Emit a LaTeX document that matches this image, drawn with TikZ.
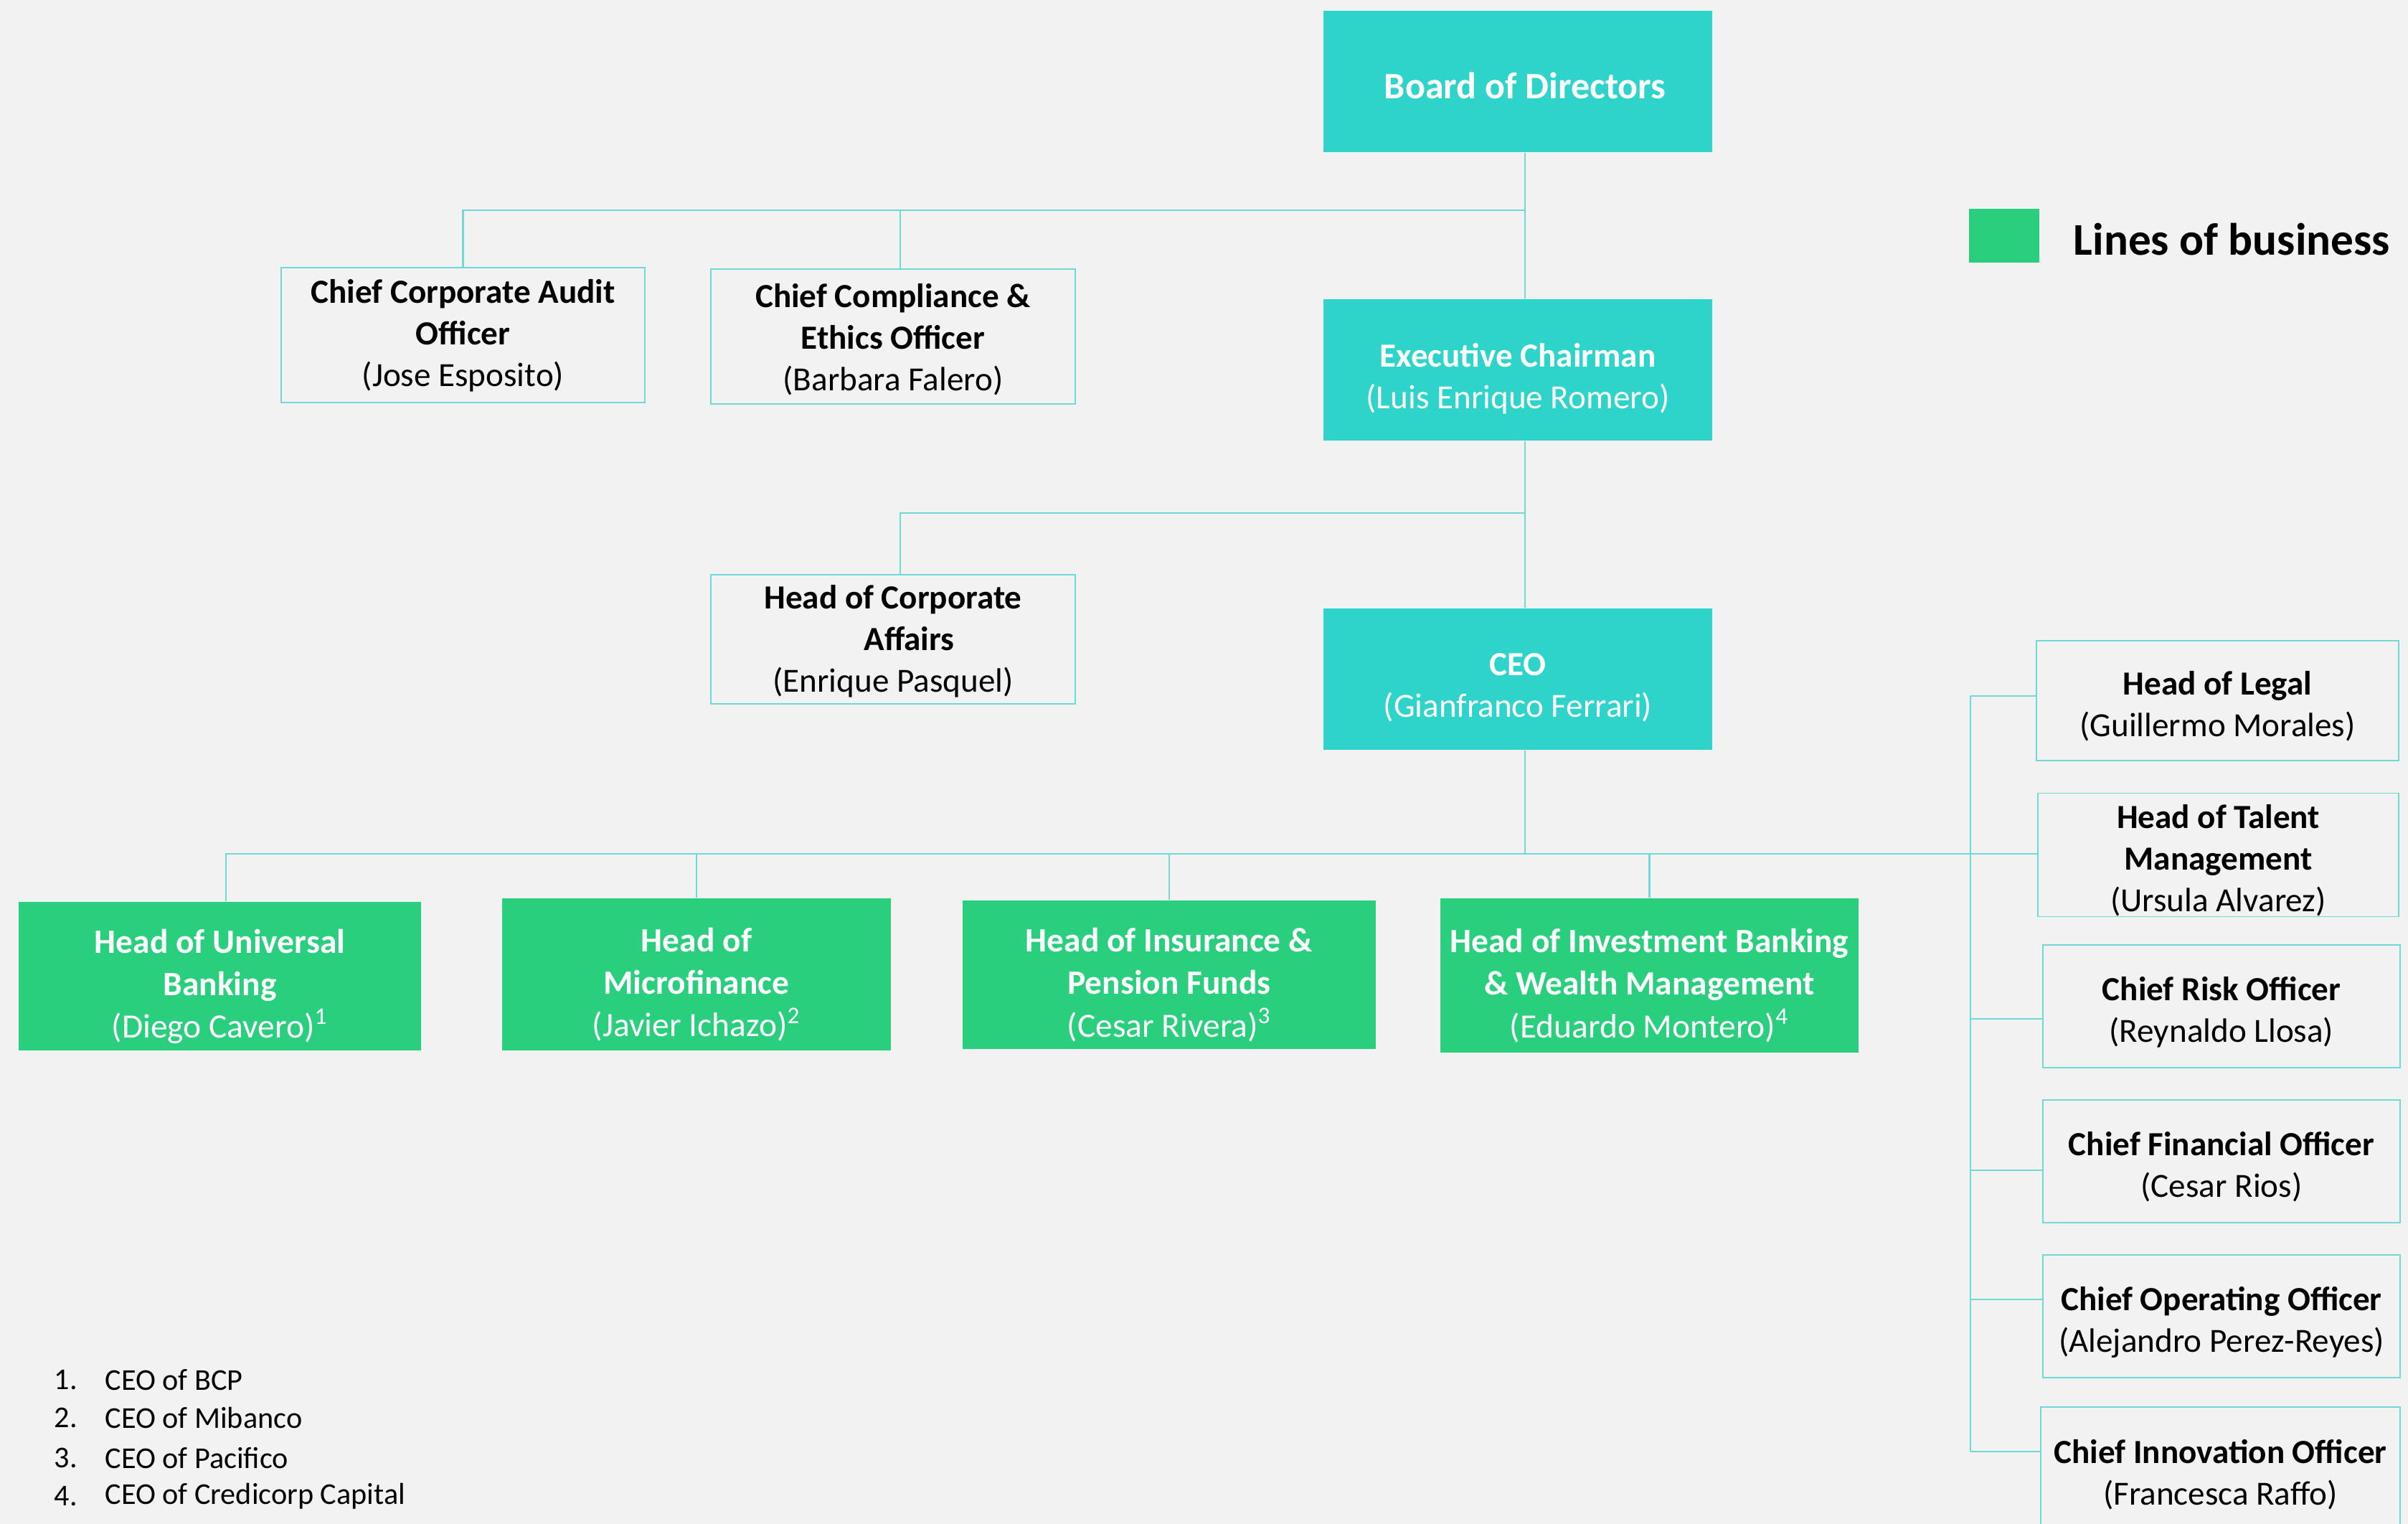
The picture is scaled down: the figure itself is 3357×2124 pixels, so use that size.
\documentclass[tikz,border=0pt]{standalone}
\usepackage{fontspec}
\setmainfont{Carlito}
\definecolor{tealbox}{HTML}{2ED3CA}
\definecolor{lobgreen}{HTML}{2ACF7E}
\definecolor{bgcol}{HTML}{F2F2F2}
\definecolor{linecol}{HTML}{6FD9D3}
\newcommand\upsp[1]{\rule{0pt}{#1}}
\begin{document}
\begin{tikzpicture}[x=0.01cm,y=-0.01cm,
  basebox/.style={rectangle, inner sep=0pt, align=center, font=\fontsize{13.4}{16.5}\selectfont},
  tbox/.style={basebox, fill=tealbox, text=white, minimum width=5.42cm, minimum height=1.97cm},
  gbox/.style={basebox, fill=lobgreen, text=white, font=\fontsize{13.5}{16.8}\selectfont},
  obox/.style={basebox, draw=linecol, line width=0.5pt},
  rbox/.style={obox, minimum width=5cm, minimum height=1.7cm},
  conn/.style={draw=linecol, line width=0.6pt},
  foot/.style={anchor=west, inner sep=0pt, font=\fontsize{12}{14}\selectfont}]
\fill[bgcol] (0,0) rectangle (3357,2124);
\useasboundingbox (0,0) rectangle (3357,2124);

% top chain
\node[tbox, font=\fontsize{14.8}{17}\selectfont\bfseries] (board) at (2116,113.5) {\upsp{13.5pt}\hspace{0.2cm}Board of Directors};
\node[tbox] (exec) at (2116,515.5) {\upsp{16.5pt}\textbf{Executive Chairman}\\(Luis Enrique Romero)};
\node[tbox] (ceo) at (2116,946.5) {\upsp{15.5pt}\textbf{CEO}\\(Gianfranco Ferrari)};

\node[obox, minimum width=5.07cm, minimum height=1.88cm] (audit) at (645.5,467) {\upsp{10pt}\textbf{Chief Corporate Audit}\\\textbf{Officer}\\(Jose Esposito)};
\node[obox, minimum width=5.08cm, minimum height=1.88cm] (comp) at (1245,469) {\upsp{12pt}\textbf{Chief Compliance \&}\\\textbf{Ethics Officer}\\(Barbara Falero)};
\node[obox, minimum width=5.08cm, minimum height=1.8cm] (corp) at (1245,891) {\upsp{11pt}\textbf{Head of Corporate}\\\hspace*{0.45cm}\textbf{Affairs}\\(Enrique Pasquel)};

% lines of business
\node[gbox, minimum width=5.61cm, minimum height=2.07cm] (univ) at (306.5,1360.5) {\upsp{17.5pt}\textbf{Head of Universal}\\\textbf{Banking}\\(Diego Cavero)\textsuperscript{1}};
\node[gbox, minimum width=5.42cm, minimum height=2.12cm] (micro) at (971,1358) {\upsp{17.5pt}\textbf{Head of}\\\textbf{Microfinance}\\(Javier Ichazo)\textsuperscript{2}};
\node[gbox, minimum width=5.76cm, minimum height=2.07cm] (ins) at (1630,1358.5) {\upsp{17.5pt}\textbf{Head of Insurance \&}\\\textbf{Pension Funds}\\(Cesar Rivera)\textsuperscript{3}};
\node[gbox, minimum width=5.83cm, minimum height=2.15cm] (inv) at (2299.5,1359.5) {\upsp{17.5pt}\textbf{Head of Investment Banking}\\\textbf{\& Wealth Management}\\(Eduardo Montero)\textsuperscript{4}};

% right column
\node[rbox, minimum width=5.05cm, minimum height=1.67cm] (legal) at (3091.5,976.5) {\upsp{14pt}\textbf{Head of Legal}\\(Guillermo Morales)};
\node[rbox, minimum width=5.03cm, minimum height=1.69cm] (talent) at (3092.5,1191.5) {\upsp{14pt}\textbf{Head of Talent}\\\textbf{Management}\\(Ursula Alvarez)};
\node[rbox, minimum width=4.98cm, minimum height=1.71cm] (risk) at (3097,1402.5) {\upsp{14pt}\textbf{Chief Risk Officer}\\(Reynaldo Llosa)};
\node[rbox, minimum width=4.98cm, minimum height=1.71cm] (cfo) at (3097,1618.5) {\upsp{14pt}\textbf{Chief Financial Officer}\\(Cesar Rios)};
\node[rbox, minimum width=4.98cm, minimum height=1.71cm] (coo) at (3097,1834.5) {\upsp{14pt}\textbf{Chief Operating Officer}\\(Alejandro Perez-Reyes)};
\node[rbox, minimum width=5.01cm, minimum height=1.79cm] (innov) at (3095.5,2050.5) {\upsp{12pt}\textbf{Chief Innovation Officer}\\(Francesca Raffo)};

% connectors: top
\coordinate (tx) at (2126,0);
\coordinate (bar1) at (2126,293);
\coordinate (bar2) at (2126,715);
\coordinate (row) at (2126,1190);
\coordinate (cx) at (1255,0);
\coordinate (ux) at (315,0);
\draw[conn] (board.south -| tx) -- (exec.north -| tx);
\draw[conn] (exec.south -| tx) -- (ceo.north -| tx);
\draw[conn] (audit.north) -- (audit.north |- bar1) -- (bar1);
\draw[conn] (comp.north -| cx) -- (cx |- bar1);
\draw[conn] (corp.north -| cx) -- (cx |- bar2) -- (bar2);

% connectors: CEO row
\draw[conn] (ceo.south -| tx) -- (row);
\draw[conn] (univ.north -| ux) -- (ux |- row) -- (talent.west |- row);
\draw[conn] (micro.north) -- (micro.north |- row);
\draw[conn] (ins.north) -- (ins.north |- row);
\draw[conn] (inv.north) -- (inv.north |- row);

% right bar
\coordinate (r1) at (2747,970);
\coordinate (r3) at (2747,1420);
\coordinate (r4) at (2747,1631);
\coordinate (r5) at (2747,1811);
\coordinate (r6) at (2747,2023);
\draw[conn] (r1) -- (r6);
\draw[conn] (r1) -- (legal.west |- r1);
\draw[conn] (r3) -- (risk.west |- r3);
\draw[conn] (r4) -- (cfo.west |- r4);
\draw[conn] (r5) -- (coo.west |- r5);
\draw[conn] (r6) -- (innov.west |- r6);

% legend
\node[fill=lobgreen, minimum width=0.98cm, minimum height=0.75cm, inner sep=0pt] (legsq) at (2794,328.5) {};
\node[anchor=west, inner sep=0pt, font=\fontsize{18}{20}\selectfont\bfseries] (legtx) at (2890,334) {Lines of business};

% footnotes
\node[foot] (n1) at (75,1923) {1.};
\node[foot] (f1) at (146,1923) {CEO of BCP};
\node[foot] (n2) at (75,1976) {2.};
\node[foot] (f2) at (146,1976) {CEO of Mibanco};
\node[foot] (n3) at (75,2032) {3.};
\node[foot] (f3) at (146,2032) {CEO of Pacifico};
\node[foot] (n4) at (75,2085) {4.};
\node[foot] (f4) at (146,2085) {CEO of Credicorp Capital};
\end{tikzpicture}
\end{document}
